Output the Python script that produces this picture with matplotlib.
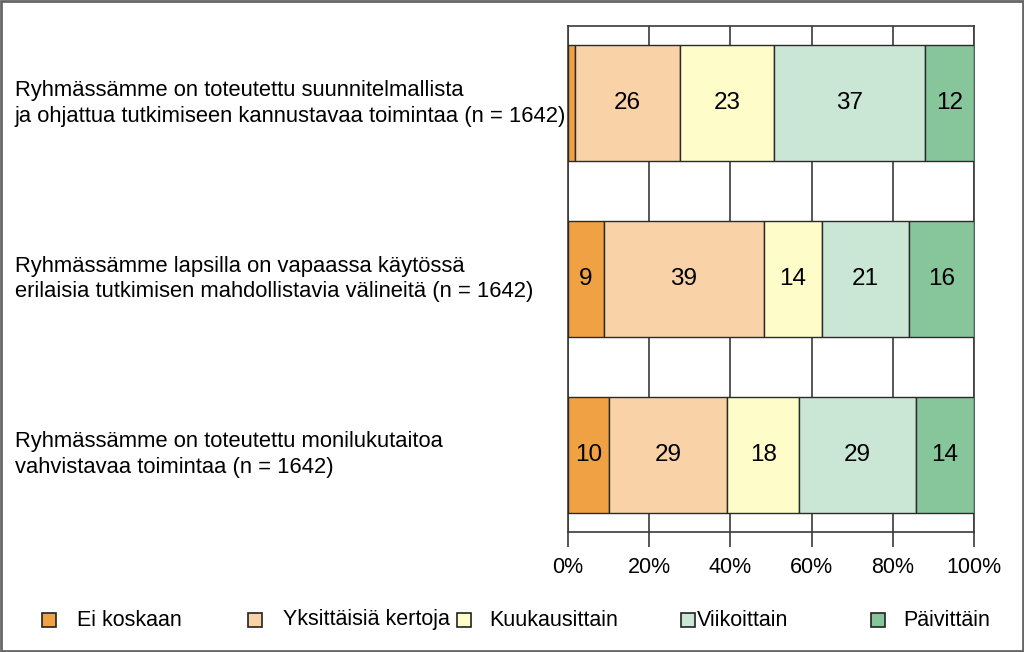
import matplotlib
matplotlib.use("Agg")
import matplotlib.pyplot as plt
from matplotlib.patches import Rectangle
from matplotlib import transforms
import numpy as np

plt.rcParams['font.family'] = ['Liberation Sans', 'DejaVu Sans']

statements = [
    "Ryhmässämme on toteutettu suunnitelmallista\nja ohjattua tutkimiseen kannustavaa toimintaa (n = 1642)",
    "Ryhmässämme lapsilla on vapaassa käytössä\nerilaisia tutkimisen mahdollistavia välineitä (n = 1642)",
    "Ryhmässämme on toteutettu monilukutaitoa\nvahvistavaa toimintaa (n = 1642)",
]
categories = ["Ei koskaan", "Yksittäisiä kertoja", "Kuukausittain", "Viikoittain", "Päivittäin"]
ei_koskaan = [1.7, 8.8, 10.1]
yksittaisia = [25.9, 39.4, 29.1]
kuukausittain = [23.2, 14.4, 17.7]
viikoittain = [37.1, 21.3, 28.8]
paivittain = [12.1, 16.1, 14.3]
colors = ["#F0A143", "#F9D2A8", "#FEFCC8", "#CAE6D5", "#87C59A"]
xticks = [0, 20, 40, 60, 80, 100]
xtick_labels = ["0%", "20%", "40%", "60%", "80%", "100%"]

series = [ei_koskaan, yksittaisia, kuukausittain, viikoittain, paivittain]

fig = plt.figure(figsize=(10.24, 6.52), dpi=100)
ax = fig.add_axes([568/1024, 1-532/652, (974-568)/1024, (532-26)/652])

ypos = np.arange(len(statements))[::-1]
left = np.zeros(len(statements))
linecol = "#3a3a3a"
for vals, col in zip(series, colors):
    vals = np.array(vals, dtype=float)
    ax.barh(ypos, vals, left=left, height=0.66, color=col,
            edgecolor="#2a2a2a", linewidth=1.0, zorder=3)
    for y, l, v in zip(ypos, left, vals):
        if v >= 5:
            ax.text(l + v/2, y, f"{int(round(v))}", ha='center', va='center',
                    fontsize=17.5, color='black', zorder=4)
    left += vals

ax.set_xlim(0, 100)
ax.set_ylim(-0.44, 2.44)
ax.set_xticks(xticks)
ax.set_xticklabels(xtick_labels, fontsize=15.5)
ax.tick_params(axis='x', length=11, width=1.2, color=linecol, pad=7)
ax.set_yticks([])
ax.grid(axis='x', color=linecol, linewidth=1.2, zorder=1)
for s in ax.spines.values():
    s.set_color(linecol)
    s.set_linewidth(1.2)

trans = transforms.blended_transform_factory(fig.transFigure, ax.transData)
for y, lab in zip(ypos, statements):
    ax.text(15/1024, y, lab, transform=trans, ha='left', va='center',
            fontsize=15.8, linespacing=1.3, clip_on=False)

# legend
sq_x = [42, 248, 457, 681, 871]
tx_x = [77, 283, 489, 697, 903]
ly = 1 - 620/652
sw, sh = 14/1024, 14/652
for i, (cat, col) in enumerate(zip(categories, colors)):
    fig.patches.append(Rectangle((sq_x[i]/1024, ly - sh/2), sw, sh,
                                 transform=fig.transFigure, facecolor=col,
                                 edgecolor="#222222", linewidth=1.2))
    fig.text(tx_x[i]/1024, ly, cat, ha='left', va='center', fontsize=15.5)

fig.patches.append(Rectangle((0.001, 0.0015), 0.998, 0.997, transform=fig.transFigure,
                             facecolor='none', edgecolor="#666666", linewidth=2))

fig.savefig("out.png", dpi=100)
